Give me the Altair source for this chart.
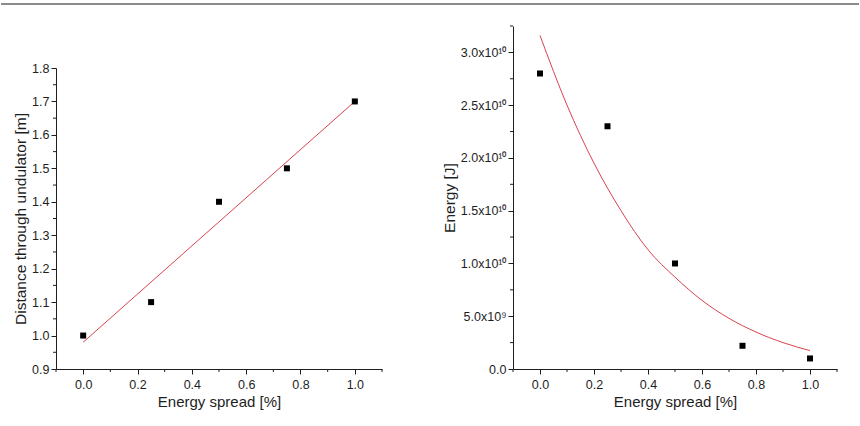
import altair as alt
import pandas as pd

# ---------------- data ----------------
spread = [0.0, 0.25, 0.5, 0.75, 1.0]
distance = [1.0, 1.1, 1.4, 1.5, 1.7]
energy = [2.8e10, 2.3e10, 1.0e10, 2.2e9, 1.0e9]

lin_fit_x = [0.0, 1.0]
lin_fit_y = [0.98, 1.70]

exp_fit_x = [0.0, 0.1, 0.2, 0.3, 0.4, 0.5, 0.6, 0.7, 0.8, 0.9, 1.0]
exp_fit_y = [3.16e10, 2.50e10, 1.95e10, 1.50e10, 1.13e10, 0.87e10,
             0.65e10, 0.48e10, 0.35e10, 0.25e10, 0.174e10]

x_major = [0.0, 0.2, 0.4, 0.6, 0.8, 1.0]
x_minor = [-0.1, 0.1, 0.3, 0.5, 0.7, 0.9, 1.1]
left_y_major = [0.9, 1.0, 1.1, 1.2, 1.3, 1.4, 1.5, 1.6, 1.7, 1.8]
left_y_minor = [0.95, 1.05, 1.15, 1.25, 1.35, 1.45, 1.55, 1.65, 1.75]
right_y_major = [0.0, 5e9, 1e10, 1.5e10, 2e10, 2.5e10, 3e10]
right_y_minor = [2.5e9, 7.5e9, 1.25e10, 1.75e10, 2.25e10, 2.75e10, 3.25e10]

# ---------------- style ----------------
FONT = "Liberation Sans"
INK = "#1e1e1e"
RED = "#d8434e"
W_L, W_R, H = 326, 324, 343
LEFT_TOP = 42

x_scale = alt.Scale(domain=[-0.1, 1.1], nice=False, zero=False)
x_axis = alt.Axis(values=x_major, format=".1f", title="Energy spread [%]",
                  orient="bottom", grid=False, tickSize=5, labelPadding=4,
                  titlePadding=4, labelFontSize=12.5, titleFontSize=15,
                  labelFlush=False)

ly_scale = alt.Scale(domain=[0.9, 1.8], nice=False, zero=False, range=[H, LEFT_TOP])
ly_axis = alt.Axis(values=left_y_major, format=".1f",
                   title="Distance through undulator [m]", orient="left",
                   grid=False, tickSize=5, labelPadding=2, titlePadding=3,
                   labelFontSize=12.5, titleFontSize=15.5)

ry_scale = alt.Scale(domain=[0, 3.25e10], nice=False, zero=False)
ry_axis = alt.Axis(values=right_y_major, title="Energy [J]", orient="left",
                   grid=False, tickSize=5, labelPadding=2, titlePadding=3,
                   labelFontSize=12.5, titleFontSize=15.5,
                   labelExpr="datum.value == 0 ? '0.0' : (datum.value < 1e10 ? "
                             "format(datum.value/1e9, '.1f') + 'x10⁹' : "
                             "format(datum.value/1e10, '.1f') + 'x10¹⁰')")

def panel(px, py, fx, fy, y_scale, y_axis, y_minor, width, extra=None):
    pts = pd.DataFrame({"x": px, "y": py})
    fit = pd.DataFrame({"x": fx, "y": fy})
    xm = pd.DataFrame({"x": x_minor})
    ym = pd.DataFrame({"y": y_minor})
    X = alt.X("x:Q", scale=x_scale, axis=x_axis)
    Y = alt.Y("y:Q", scale=y_scale, axis=y_axis)
    fit_line = alt.Chart(fit).mark_line(color=RED, strokeWidth=1,
                                         interpolate="monotone").encode(x=X, y=Y)
    points = alt.Chart(pts).mark_square(size=36, color="black", opacity=1).encode(x=X, y=Y)
    xminor = alt.Chart(xm).mark_rule(color=INK, strokeWidth=1).encode(
        x=X, y=alt.value(H), y2=alt.value(H + 3))
    yminor = alt.Chart(ym).mark_rule(color=INK, strokeWidth=1).encode(
        y=Y, x=alt.value(0), x2=alt.value(-3))
    layers = [fit_line, points, xminor, yminor]
    if extra is not None:
        layers.append(extra)
    return alt.layer(*layers).properties(width=width, height=H)

left = panel(spread, distance, lin_fit_x, lin_fit_y, ly_scale, ly_axis, left_y_minor, W_L)

top_border = alt.Chart(pd.DataFrame({"a": [0]})).mark_rule(
    color="#8c8c8c", strokeWidth=2).encode(
    x=alt.value(-512), x2=alt.value(346), y=alt.value(-22))

right = panel(spread, energy, exp_fit_x, exp_fit_y, ry_scale, ry_axis, right_y_minor,
              W_R, extra=top_border)

chart = alt.hconcat(left, right, spacing=131, bounds="flush").properties(
    padding={"left": 0, "top": 3, "right": 0, "bottom": 5},
    background="white",
).configure_view(stroke=None).configure_axis(
    domainColor=INK, tickColor=INK, labelColor=INK, titleColor=INK,
    labelFont=FONT, titleFont=FONT, titleFontWeight="normal",
    domainWidth=1, tickWidth=1,
)

chart.save("out.html", embed_options={"renderer": "svg", "actions": False})
